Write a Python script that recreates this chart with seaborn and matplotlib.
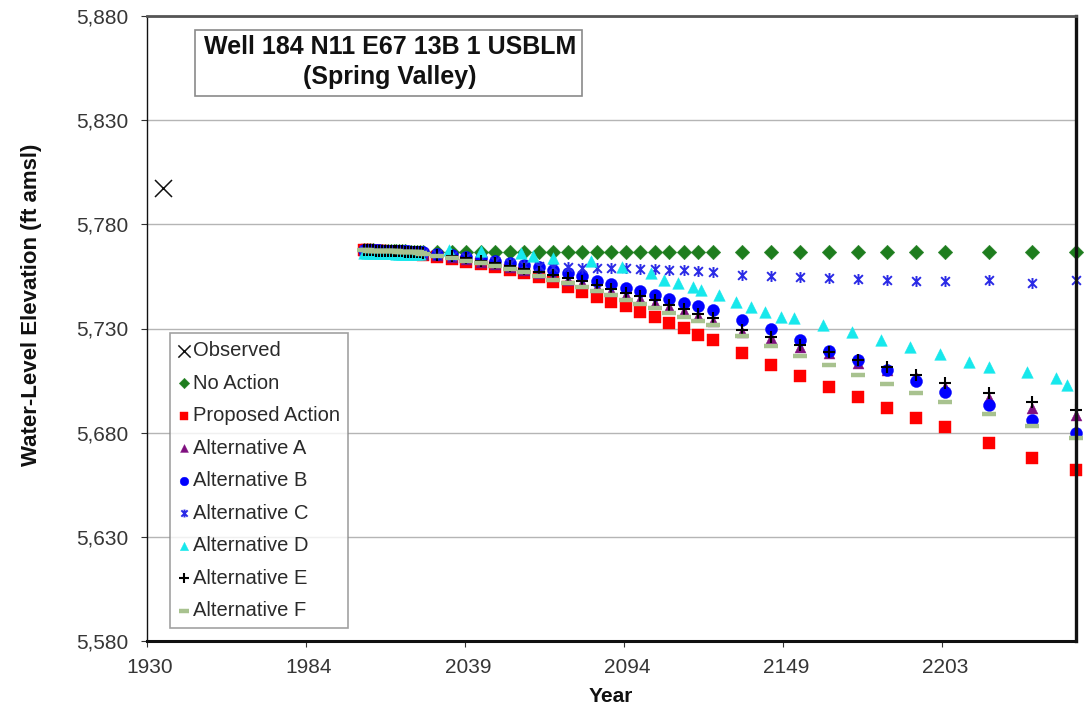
import datetime
import matplotlib
matplotlib.use("Agg")
import matplotlib.pyplot as plt
import seaborn as sns
from matplotlib.path import Path
from matplotlib.markers import MarkerStyle
from matplotlib.patches import Rectangle
from matplotlib.transforms import ScaledTranslation

sns.set_theme(style="white")
plt.rcParams["font.family"] = ["Liberation Sans", "DejaVu Sans"]

# ---------------------------------------------------------------- data
observed_year = [1935.6]
observed_elev = [5797.4]

# simulation output times (decimal years) shared by most scenarios
sim_years = [2005, 2006, 2007, 2008, 2009, 2010, 2011, 2012, 2013, 2014,
             2015, 2016, 2017, 2018, 2019, 2020, 2021, 2022, 2023, 2024,
             2025, 2030, 2035, 2040, 2045, 2050, 2055, 2060, 2065, 2070,
             2075, 2080, 2085, 2090, 2095, 2100, 2105, 2110, 2115, 2120, 2125,
             2135, 2145, 2155, 2165, 2175, 2185, 2195, 2205,
             2220, 2235, 2250]

no_action = [5767.6, 5767.6, 5767.5, 5767.5, 5767.4, 5767.4, 5767.3, 5767.3, 5767.2, 5767.2,
             5767.1, 5767.1, 5767.0, 5767.0, 5767.0, 5766.9, 5766.9, 5766.9, 5766.8, 5766.8,
             5766.8, 5766.8, 5766.8, 5766.8, 5766.7, 5766.7, 5766.7, 5766.7, 5766.7, 5766.7,
             5766.7, 5766.7, 5766.7, 5766.7, 5766.7, 5766.6, 5766.6, 5766.6, 5766.6, 5766.6, 5766.6,
             5766.6, 5766.6, 5766.6, 5766.6, 5766.6, 5766.6, 5766.6, 5766.6,
             5766.6, 5766.6, 5766.6]

proposed_action = [5767.6, 5767.5, 5767.4, 5767.3, 5767.2, 5767.1, 5767.0, 5766.9, 5766.8, 5766.7,
                   5766.6, 5766.5, 5766.4, 5766.3, 5766.2, 5766.1, 5766.0, 5765.9, 5765.8, 5765.7,
                   5765.3, 5764.4, 5763.3, 5762.1, 5760.8, 5759.3, 5757.9, 5756.6, 5754.7, 5752.2,
                   5750.0, 5747.6, 5745.2, 5742.8, 5740.8, 5738.0, 5735.5, 5732.7, 5730.2, 5727.0, 5724.4,
                   5718.2, 5712.6, 5707.3, 5701.9, 5697.1, 5691.8, 5687.0, 5682.6,
                   5675.1, 5667.9, 5662.0]

alt_a = [5767.7, 5767.6, 5767.6, 5767.5, 5767.5, 5767.4, 5767.4, 5767.3, 5767.3, 5767.2,
         5767.2, 5767.1, 5767.1, 5767.0, 5767.0, 5766.9, 5766.9, 5766.8, 5766.7, 5766.6,
         5766.0, 5765.2, 5764.3, 5763.2, 5762.0, 5760.8, 5759.4, 5758.0, 5756.5, 5755.0,
         5753.4, 5751.7, 5749.9, 5748.0, 5746.2, 5744.3, 5742.3, 5740.3, 5738.2, 5736.0, 5733.8,
         5728.3, 5725.4, 5721.1, 5718.2, 5713.4, 5710.1, 5706.7, 5701.9,
         5696.6, 5691.8, 5688.5]

alt_b = [5767.7, 5767.7, 5767.6, 5767.6, 5767.5, 5767.5, 5767.4, 5767.4, 5767.3, 5767.3,
         5767.2, 5767.2, 5767.1, 5767.1, 5767.0, 5767.0, 5766.9, 5766.9, 5766.8, 5766.8,
         5766.5, 5766.0, 5765.3, 5764.5, 5763.6, 5762.6, 5761.6, 5760.6, 5759.4, 5758.3,
         5756.7, 5755.0, 5753.0, 5751.3, 5749.5, 5748.0, 5746.3, 5744.4, 5742.3, 5740.9, 5738.9,
         5734.1, 5729.7, 5724.5, 5719.2, 5714.9, 5710.1, 5704.8, 5699.5,
         5693.3, 5686.0, 5679.8]

alt_c = [5767.7, 5767.7, 5767.6, 5767.6, 5767.5, 5767.5, 5767.4, 5767.4, 5767.3, 5767.3,
         5767.2, 5767.2, 5767.1, 5767.1, 5767.0, 5767.0, 5766.9, 5766.9, 5766.8, 5766.8,
         5766.4, 5765.8, 5765.0, 5764.1, 5763.2, 5762.3, 5761.4, 5760.6, 5760.0, 5759.6,
         5759.3, 5759.1, 5759.0, 5758.9, 5758.8, 5758.7, 5758.5, 5758.3, 5758.1, 5757.8, 5757.0,
         5755.8, 5755.3, 5754.8, 5754.3, 5753.9, 5753.5, 5753.0, 5752.8,
         5753.4, 5751.8, 5753.2]

alt_e = [5767.6, 5767.6, 5767.5, 5767.5, 5767.4, 5767.4, 5767.3, 5767.3, 5767.2, 5767.2,
         5767.1, 5767.1, 5767.0, 5767.0, 5766.9, 5766.9, 5766.8, 5766.8, 5766.7, 5766.7,
         5766.2, 5765.5, 5764.6, 5763.6, 5762.5, 5761.3, 5760.0, 5758.7, 5757.3, 5755.8,
         5754.2, 5752.6, 5750.8, 5749.0, 5747.2, 5745.4, 5743.5, 5741.5, 5739.4, 5737.2, 5735.0,
         5729.3, 5725.9, 5722.1, 5718.7, 5714.9, 5711.5, 5707.7, 5703.8,
         5699.0, 5694.7, 5690.8]

alt_f = [5767.5, 5767.5, 5767.4, 5767.4, 5767.3, 5767.3, 5767.2, 5767.2, 5767.1, 5767.1,
         5767.0, 5767.0, 5766.9, 5766.9, 5766.8, 5766.8, 5766.7, 5766.6, 5766.5, 5766.4,
         5765.8, 5764.9, 5763.8, 5762.6, 5761.3, 5759.9, 5758.4, 5756.9, 5755.2, 5753.5,
         5751.7, 5749.8, 5747.9, 5745.9, 5743.9, 5741.9, 5739.8, 5737.6, 5735.5, 5733.6, 5731.7,
         5726.4, 5721.6, 5716.8, 5712.5, 5707.7, 5703.3, 5699.0, 5694.7,
         5688.9, 5683.2, 5677.4]

# Alternative D is reported on its own time steps
alt_d_years = [2005, 2006, 2007, 2008, 2009, 2010, 2011, 2012, 2013, 2014,
               2015, 2016, 2017, 2018, 2019, 2020, 2021, 2022, 2023, 2024,
               2034, 2045, 2059, 2063, 2070, 2083, 2093.5, 2103.5, 2108, 2113,
               2118, 2121, 2127, 2133, 2138, 2143, 2148.5, 2153,
               2163, 2173, 2183, 2193, 2203, 2213,
               2220, 2233, 2243, 2247]
alt_d = [5766.4, 5766.4, 5766.3, 5766.3, 5766.3, 5766.2, 5766.2, 5766.2, 5766.1, 5766.1,
         5766.1, 5766.0, 5766.0, 5766.0, 5765.9, 5765.9, 5765.9, 5765.8, 5765.8, 5765.8,
         5767.6, 5767.4, 5766.3, 5764.8, 5764.0, 5762.2, 5759.4, 5756.6, 5753.3, 5751.8,
         5749.9, 5748.5, 5746.1, 5742.7, 5740.3, 5737.9, 5735.5, 5735.0,
         5731.7, 5728.3, 5724.5, 5721.1, 5717.7, 5713.9,
         5711.5, 5709.1, 5706.2, 5702.9]

# date-axis ticks (spreadsheet day serials) and their year labels
tick_serials = [11000, 31000, 51000, 71000, 91000, 111000]
y_ticks = [5580, 5630, 5680, 5730, 5780, 5830, 5880]


def serial_to_year(serial):
    day = datetime.date(1899, 12, 30) + datetime.timedelta(days=serial)
    return day.year + (day.timetuple().tm_yday - 1) / 365.25


tick_pos = [serial_to_year(s) for s in tick_serials]
tick_lab = [str(int(p)) for p in tick_pos]

# ---------------------------------------------------------------- figure
W, H = 1089, 714
fig = plt.figure(figsize=(W / 100, H / 100), dpi=100)
fig.patch.set_facecolor("white")
ax = fig.add_axes([147 / W, 1 - 641 / H, 929 / W, 625 / H])
ax.set_facecolor("white")

star_path = Path([(-1, -1), (1, 1), (-1, 1), (1, -1), (0, -1.25), (0, 1.25)],
                 [Path.MOVETO, Path.LINETO, Path.MOVETO, Path.LINETO,
                  Path.MOVETO, Path.LINETO])
star = MarkerStyle(star_path)

series = [
    ("Observed", observed_year, observed_elev, "x", "#111111", 150, 1.1),
    ("No Action", sim_years, no_action, "D", "#1e7d1e", 55, 0),
    ("Proposed Action", sim_years, proposed_action, "s", "#ff0000", 70, 0),
    ("Alternative A", sim_years, alt_a, "^", "#7f0f7f", 62, 0),
    ("Alternative B", sim_years, alt_b, "o", "#0000ff", 75, 0),
    ("Alternative C", sim_years, alt_c, star, "#2a2ae6", 62, 1.4),
    ("Alternative D", alt_d_years, alt_d, "^", "#17e8ec", 70, 0),
    ("Alternative E", sim_years, alt_e, "+", "#000000", 85, 1.5),
    ("Alternative F", sim_years, alt_f, "_", "#a8c28f", 95, 3.2),
]

for i, (name, xs, ys, mk, col, size, lw) in enumerate(series):
    filled = isinstance(mk, str) and mk in ("D", "s", "^", "o")
    kws = dict(x=xs, y=ys, marker=mk, s=size, ax=ax, label=name,
               zorder=3 + i, clip_on=False)
    if filled:
        kws.update(color=col, edgecolor=col, linewidth=0.3)
    else:
        kws.update(color=col, edgecolor=col, linewidth=lw)
    sns.scatterplot(**kws)

# ---------------------------------------------------------------- axes
ax.set_xlim(tick_pos[0], 2250.0)
ax.set_ylim(5580, 5880)
ax.set_xticks(tick_pos)
ax.set_xticklabels(tick_lab)
ax.set_yticks(y_ticks)
ax.set_yticklabels([f"{v:,}" for v in y_ticks])
ax.tick_params(axis="both", which="major", direction="out", length=4,
               width=0.8, color="#333333", labelsize=15,
               labelcolor="#363636", bottom=True, left=True)
ax.tick_params(axis="y", pad=9.5)
ax.tick_params(axis="x", pad=8.5)
for lab in ax.get_xticklabels():
    lab.set_transform(lab.get_transform() + ScaledTranslation(0.03, 0, fig.dpi_scale_trans))
ax.yaxis.grid(True, color="#b5b5b5", linewidth=1.0, zorder=0)
ax.xaxis.grid(False)
ax.set_axisbelow(True)

for side, lw, col in (("left", 1.0, "#111111"), ("bottom", 2.2, "#111111"),
                      ("right", 2.4, "#111111"), ("top", 2.0, "#555555")):
    ax.spines[side].set_visible(True)
    ax.spines[side].set_linewidth(lw)
    ax.spines[side].set_color(col)
    ax.spines[side].set_zorder(20)

ax.set_xlabel("Year", fontsize=15, fontweight="bold", color="#111111")
ax.set_ylabel("Water-Level Elevation (ft amsl)", fontsize=16, fontweight="bold",
              color="#111111")
ax.xaxis.set_label_coords((611 - 147) / 929, (641 - 687) / 625)
ax.yaxis.set_label_coords((42 - 147) / 929, (641 - 305) / 625)

# title box
fig.patches.append(Rectangle((195 / W, 1 - 96 / H), 387 / W, 66 / H,
                             transform=fig.transFigure, facecolor="white",
                             edgecolor="#8a8a8a", linewidth=1.2, zorder=30))
fig.text(390 / W, 1 - 47 / H, "Well 184 N11 E67 13B 1 USBLM", ha="center",
         va="center", fontsize=18, fontweight="bold", color="#111111", zorder=31)
fig.text(390 / W, 1 - 77 / H, "(Spring Valley)", ha="center", va="center",
         fontsize=18, fontweight="bold", color="#111111", zorder=31)

# legend
leg = ax.legend(loc="upper left", bbox_to_anchor=(170 / W, 1 - 333 / H),
                bbox_transform=fig.transFigure, borderaxespad=0,
                frameon=True, fancybox=False, edgecolor="#8a8a8a",
                fontsize=14.5, handlelength=0.6, handletextpad=0.15,
                labelspacing=0.67, borderpad=0.4, scatterpoints=1,
                markerscale=0.72)
leg.get_frame().set_linewidth(1.2)
leg.set_zorder(40)
for t in leg.get_texts():
    t.set_color("#2a2a2a")

fig.savefig("out.png", dpi=100, facecolor="white")
